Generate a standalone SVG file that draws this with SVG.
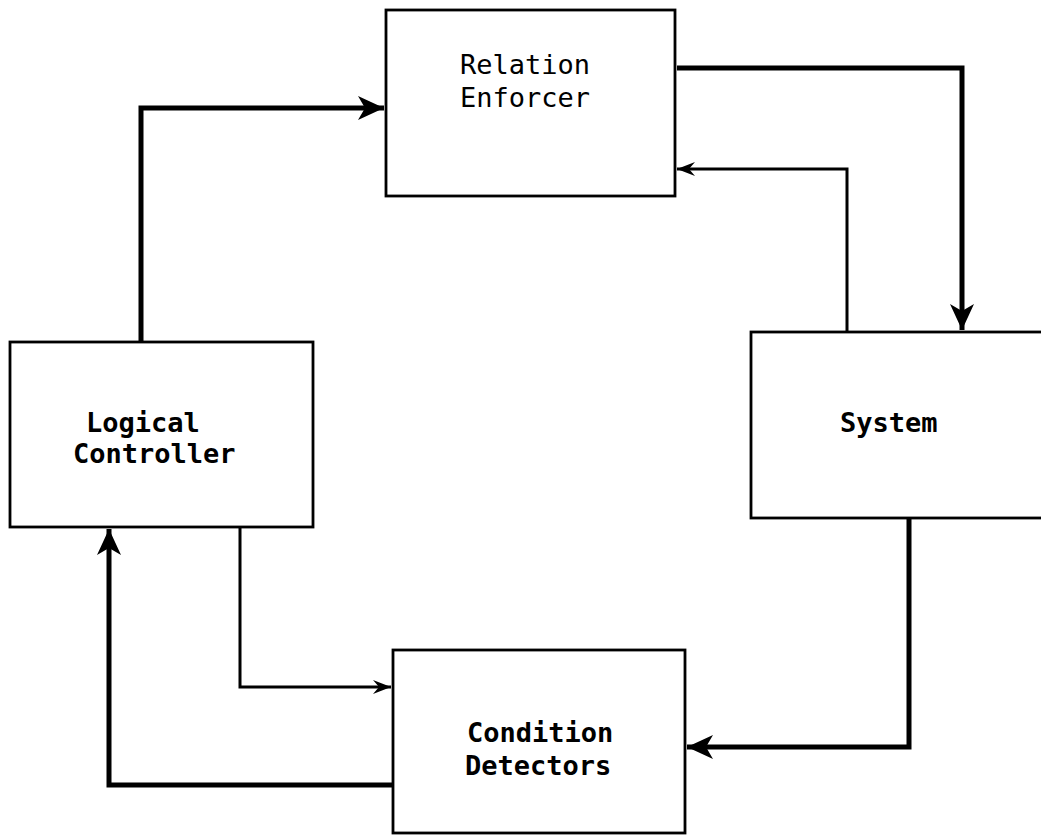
<svg xmlns="http://www.w3.org/2000/svg" width="1041" height="840" viewBox="0 0 1041 840">
  <style>
    .box { fill: #fff; stroke: #000; stroke-width: 2.8; }
    .label { font-family: "DejaVu Sans Mono", "Liberation Mono", monospace; font-size: 27px; font-weight: bold; fill: #000; }
    .light { font-weight: normal; }
    .thick { fill: none; stroke: #000; stroke-width: 5; stroke-linejoin: miter; }
    .thin { fill: none; stroke: #000; stroke-width: 3; stroke-linejoin: miter; }
  </style>
  <defs>
    <marker id="headBig" markerUnits="userSpaceOnUse" markerWidth="32" markerHeight="28" viewBox="-30 -14 32 28" refX="0" refY="0" orient="auto">
      <path d="M0,0 L-26,-12 L-19,0 L-26,12 Z" fill="#000"/>
    </marker>
    <marker id="headSmall" markerUnits="userSpaceOnUse" markerWidth="22" markerHeight="18" viewBox="-20 -9 22 18" refX="0" refY="0" orient="auto">
      <path d="M0,0 L-18,-7 L-12,0 L-18,7 Z" fill="#000"/>
    </marker>
  </defs>

  <!-- connectors -->
  <g id="connectors">
    <!-- controller -> relation enforcer -->
    <path class="thick" d="M141,342 L141,108 L384,108" marker-end="url(#headBig)"/>
    <!-- relation enforcer -> system -->
    <path class="thick" d="M677,68 L962,68 L962,330" marker-end="url(#headBig)"/>
    <!-- system -> relation enforcer (feedback) -->
    <path class="thin" d="M847,332 L847,169 L677,169" marker-end="url(#headSmall)"/>
    <!-- system -> condition detectors -->
    <path class="thick" d="M909,518 L909,747 L687,747" marker-end="url(#headBig)"/>
    <!-- controller -> condition detectors -->
    <path class="thin" d="M240,527 L240,687 L391,687" marker-end="url(#headSmall)"/>
    <!-- condition detectors -> controller -->
    <path class="thick" d="M393,785 L109,785 L109,529" marker-end="url(#headBig)"/>
  </g>

  <g id="relation-enforcer">
    <rect class="box" x="386" y="10" width="289" height="186"/>
    <text class="label light" x="460" y="74">Relation</text>
    <text class="label light" x="460" y="107">Enforcer</text>
  </g>

  <g id="system">
    <rect class="box" x="751" y="332" width="300" height="186"/>
    <text class="label" x="840" y="432">System</text>
  </g>

  <g id="logical-controller">
    <rect class="box" x="10" y="342" width="303" height="185"/>
    <text class="label" x="86" y="432">Logical</text>
    <text class="label" x="73" y="463">Controller</text>
  </g>

  <g id="condition-detectors">
    <rect class="box" x="393" y="650" width="292" height="183"/>
    <text class="label" x="467" y="742">Condition</text>
    <text class="label" x="465" y="775">Detectors</text>
  </g>
</svg>
